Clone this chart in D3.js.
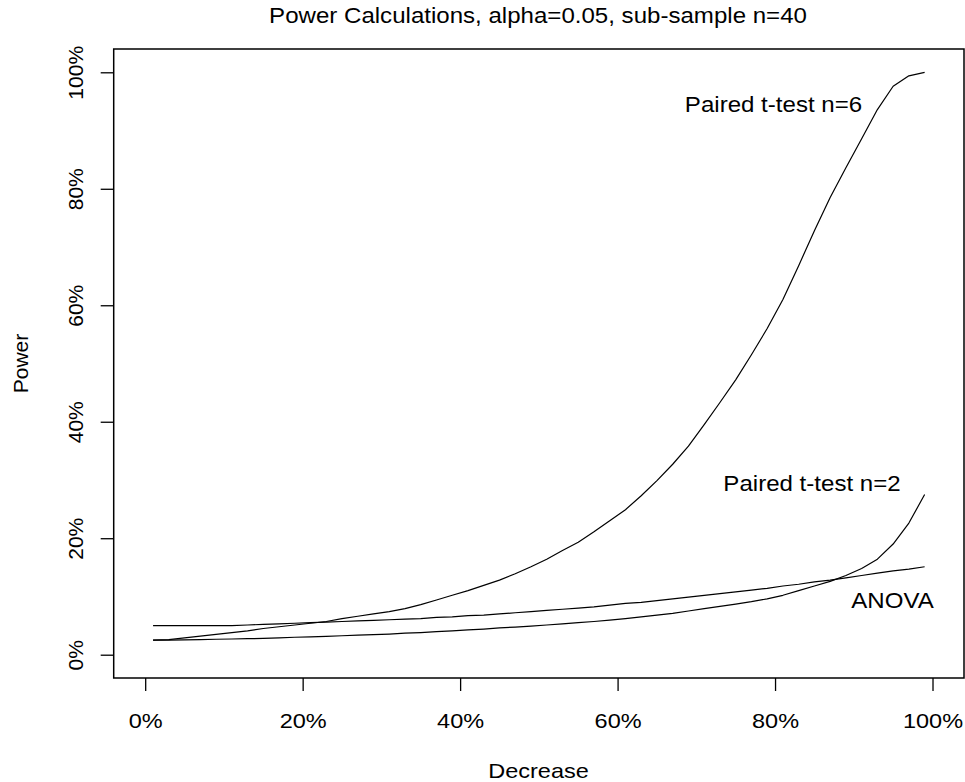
<!DOCTYPE html>
<html>
<head>
<meta charset="utf-8">
<script src="https://cdn.jsdelivr.net/npm/d3@7"></script>
<style>
  html, body { margin: 0; padding: 0; background: #fff; }
  svg { display: block; }
  text { font-family: "Liberation Sans", Arial, Helvetica, sans-serif; fill: #000; }
</style>
</head>
<body>
<svg id="chart" width="965" height="782"></svg>
<script>
// ---- data ----
const decrease = [0.01,0.03,0.05,0.07,0.09,0.11,0.13,0.15,0.17,0.19,0.21,0.23,0.25,0.27,0.29,0.31,0.33,0.35,0.37,0.39,0.41,0.43,0.45,0.47,0.49,0.51,0.53,0.55,0.57,0.59,0.61,0.63,0.65,0.67,0.69,0.71,0.73,0.75,0.77,0.79,0.81,0.83,0.85,0.87,0.89,0.91,0.93,0.95,0.97,0.99];

const pairedN6 = [2.5,2.6,2.9,3.2,3.5,3.8,4.1,4.5,4.8,5.1,5.4,5.7,6.2,6.6,7.0,7.4,7.9,8.6,9.4,10.2,11.0,11.9,12.8,13.9,15.1,16.4,17.9,19.3,21.1,23.0,24.9,27.3,29.9,32.7,35.8,39.5,43.3,47.2,51.5,56.0,61.0,66.8,72.8,78.5,83.6,88.6,93.6,97.6,99.4,100.0];

const pairedN2 = [2.5,2.5,2.55,2.6,2.65,2.7,2.75,2.8,2.9,3.0,3.05,3.15,3.25,3.35,3.45,3.55,3.7,3.8,3.95,4.1,4.25,4.4,4.6,4.75,4.9,5.1,5.3,5.5,5.7,5.95,6.2,6.5,6.8,7.1,7.5,7.9,8.3,8.7,9.1,9.6,10.2,11.0,11.8,12.6,13.6,14.8,16.4,19.0,22.6,27.5];

const anova = [5.0,5.0,5.0,5.0,5.0,5.0,5.1,5.2,5.3,5.4,5.5,5.6,5.7,5.8,5.9,6.0,6.1,6.2,6.4,6.5,6.7,6.8,7.0,7.2,7.4,7.6,7.8,8.0,8.2,8.5,8.8,9.0,9.3,9.6,9.9,10.2,10.5,10.8,11.1,11.4,11.8,12.1,12.5,12.8,13.2,13.6,14.0,14.4,14.7,15.1];

const xTicks = [0, 0.2, 0.4, 0.6, 0.8, 1.0];
const yTicks = [0, 0.2, 0.4, 0.6, 0.8, 1.0];

const seriesLabels = ["Paired t-test n=6", "Paired t-test n=2", "ANOVA"];
const titleText = "Power Calculations, alpha=0.05, sub-sample n=40";
const xTitle = "Decrease";
const yTitle = "Power";

// ---- layout ----
const svg = d3.select("#chart");
const box = { left: 113.7, right: 964, top: 49, bottom: 678 };
const stretch = 1.12;   // horizontal text stretch seen in the reference
const fs = 21;

const x = d3.scaleLinear().domain([-0.04, 1.04]).range([box.left, box.right]);
const y = d3.scaleLinear().domain([-0.04, 1.04]).range([box.bottom, box.top]);
const pct = d3.format(".0%");

// curves
const line = d3.line().x(d => x(d[0])).y(d => y(d[1] / 100));
const series = [pairedN6, pairedN2, anova];
series.forEach(vals => {
  svg.append("path")
    .datum(decrease.map((d, i) => [d, vals[i]]))
    .attr("d", line)
    .attr("fill", "none")
    .attr("stroke", "#000")
    .attr("stroke-width", 1.2)
    .attr("stroke-linejoin", "round");
});

// box
svg.append("rect")
  .attr("x", box.left).attr("y", box.top)
  .attr("width", box.right - box.left).attr("height", box.bottom - box.top)
  .attr("fill", "none").attr("stroke", "#000").attr("stroke-width", 1.5);

// x axis
const gx = svg.append("g")
  .attr("transform", `translate(0,${box.bottom})`)
  .call(d3.axisBottom(x).tickValues(xTicks).tickFormat(pct).tickSize(13).tickSizeOuter(0));
gx.select(".domain").remove();
gx.selectAll(".tick line").attr("stroke", "#000").attr("stroke-width", 1.3);
gx.selectAll(".tick text")
  .attr("y", 50).attr("dy", null)
  .attr("font-size", fs)
  .attr("font-family", null)
  .attr("transform", `scale(${stretch},1)`);

// y axis
const gy = svg.append("g")
  .attr("transform", `translate(${box.left},0)`)
  .call(d3.axisLeft(y).tickValues(yTicks).tickFormat(pct).tickSize(13).tickSizeOuter(0));
gy.select(".domain").remove();
gy.selectAll(".tick line").attr("stroke", "#000").attr("stroke-width", 1.3);
gy.selectAll(".tick text")
  .attr("x", 0).attr("y", -30.5).attr("dy", null)
  .attr("text-anchor", "middle")
  .attr("font-size", fs)
  .attr("font-family", null)
  .attr("transform", "rotate(-90)");

// titles
function hText(txt, cx, base, size) {
  svg.append("text")
    .attr("transform", `translate(${cx},${base}) scale(${stretch},1)`)
    .attr("text-anchor", "middle")
    .attr("font-size", size)
    .text(txt);
}
hText(titleText, 538, 22.5, 21.5);
hText(xTitle, 538.5, 778, fs);

svg.append("text")
  .attr("transform", `translate(28.3,${(box.top + box.bottom) / 2}) rotate(-90)`)
  .attr("text-anchor", "middle")
  .attr("font-size", fs)
  .text(yTitle);

// curve labels
hText(seriesLabels[0], 773.5, 112.3, 21.5);
hText(seriesLabels[1], 812, 491, 21.5);
hText(seriesLabels[2], 892.5, 607.7, 21.5);
</script>
</body>
</html>
